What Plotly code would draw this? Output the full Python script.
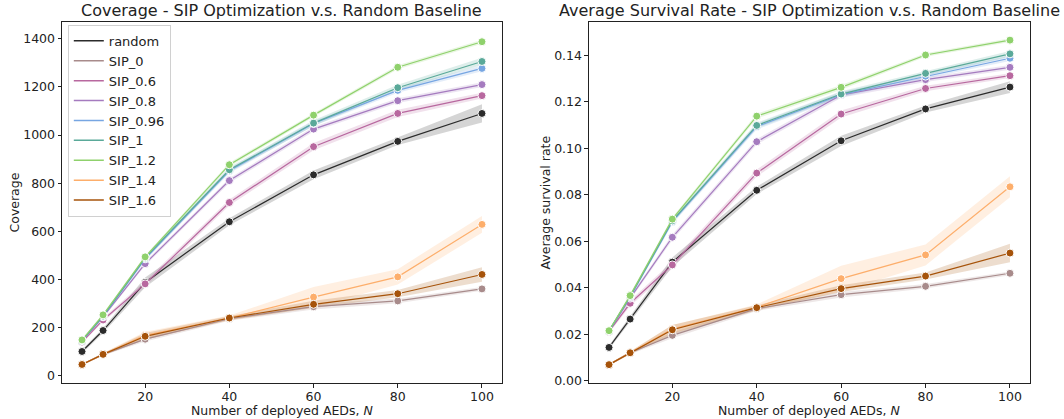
import plotly.graph_objects as go

N = [5, 10, 20, 40, 60, 80, 100]
series_names = ["random", "SIP_0", "SIP_0.6", "SIP_0.8", "SIP_0.96", "SIP_1", "SIP_1.2", "SIP_1.4", "SIP_1.6"]
colors = ["#2b2b2b", "#a88b8b", "#b8689f", "#a57bbf", "#77a6e2", "#5aa999", "#8fd16c", "#fdae6b", "#a6530a"]

# Coverage (means)
cov_random = [101, 188, 388, 640, 835, 974, 1090]
cov_sip0 = [47, 89, 152, 237, 287, 311, 361]
cov_sip06 = [140, 232, 382, 720, 952, 1090, 1164]
cov_sip08 = [145, 245, 466, 811, 1025, 1143, 1210]
cov_sip096 = [146, 247, 486, 852, 1048, 1186, 1277]
cov_sip1 = [146, 248, 490, 856, 1050, 1197, 1306]
cov_sip12 = [149, 253, 494, 877, 1083, 1282, 1388]
cov_sip14 = [47, 89, 168, 240, 327, 411, 629]
cov_sip16 = [47, 89, 164, 240, 297, 341, 421]
# Coverage band half-widths
cov_random_err = [8, 10, 20, 15, 18, 15, 38]
cov_sip0_err = [3, 5, 10, 8, 12, 10, 8]
cov_sip06_err = [5, 8, 12, 12, 15, 15, 12]
cov_sip08_err = [4, 6, 8, 10, 10, 10, 10]
cov_sip096_err = [3, 5, 8, 10, 10, 10, 12]
cov_sip1_err = [3, 5, 8, 10, 12, 12, 15]
cov_sip12_err = [3, 5, 6, 8, 8, 8, 8]
cov_sip14_err = [3, 5, 15, 10, 42, 32, 35]
cov_sip16_err = [3, 5, 14, 8, 15, 15, 30]

# Average survival rate (means)
sur_random = [0.0143, 0.0265, 0.0510, 0.0819, 0.1032, 0.1169, 0.1263]
sur_sip0 = [0.0069, 0.0120, 0.0195, 0.0310, 0.0370, 0.0406, 0.0462]
sur_sip06 = [0.0212, 0.0333, 0.0498, 0.0893, 0.1147, 0.1257, 0.1312]
sur_sip08 = [0.0213, 0.0355, 0.0617, 0.1028, 0.1229, 0.1295, 0.1348]
sur_sip096 = [0.0214, 0.0360, 0.0684, 0.1093, 0.1230, 0.1310, 0.1387]
sur_sip1 = [0.0214, 0.0362, 0.0688, 0.1098, 0.1233, 0.1322, 0.1406]
sur_sip12 = [0.0215, 0.0366, 0.0695, 0.1138, 0.1262, 0.1401, 0.1465]
sur_sip14 = [0.0069, 0.0120, 0.0222, 0.0316, 0.0439, 0.0541, 0.0834]
sur_sip16 = [0.0069, 0.0120, 0.0219, 0.0314, 0.0396, 0.0450, 0.0549]
# Survival band half-widths
sur_random_err = [0.0008, 0.0012, 0.0020, 0.0016, 0.0022, 0.0015, 0.0025]
sur_sip0_err = [0.0004, 0.0006, 0.0012, 0.0010, 0.0012, 0.0010, 0.0008]
sur_sip06_err = [0.0008, 0.0012, 0.0015, 0.0015, 0.0015, 0.0012, 0.0010]
sur_sip08_err = [0.0006, 0.0008, 0.0012, 0.0012, 0.0012, 0.0010, 0.0010]
sur_sip096_err = [0.0005, 0.0008, 0.0010, 0.0012, 0.0012, 0.0010, 0.0012]
sur_sip1_err = [0.0005, 0.0008, 0.0010, 0.0012, 0.0012, 0.0010, 0.0012]
sur_sip12_err = [0.0005, 0.0008, 0.0008, 0.0010, 0.0010, 0.0008, 0.0008]
sur_sip14_err = [0.0004, 0.0006, 0.0018, 0.0012, 0.0055, 0.0045, 0.0045]
sur_sip16_err = [0.0004, 0.0006, 0.0020, 0.0012, 0.0015, 0.0015, 0.0040]

cov_means = [cov_random, cov_sip0, cov_sip06, cov_sip08, cov_sip096, cov_sip1, cov_sip12, cov_sip14, cov_sip16]
cov_errs = [cov_random_err, cov_sip0_err, cov_sip06_err, cov_sip08_err, cov_sip096_err, cov_sip1_err,
            cov_sip12_err, cov_sip14_err, cov_sip16_err]
sur_means = [sur_random, sur_sip0, sur_sip06, sur_sip08, sur_sip096, sur_sip1, sur_sip12, sur_sip14, sur_sip16]
sur_errs = [sur_random_err, sur_sip0_err, sur_sip06_err, sur_sip08_err, sur_sip096_err, sur_sip1_err,
            sur_sip12_err, sur_sip14_err, sur_sip16_err]

cov_yticks = [0, 200, 400, 600, 800, 1000, 1200, 1400]
sur_yticks = [0.00, 0.02, 0.04, 0.06, 0.08, 0.10, 0.12, 0.14]
x_ticks = [20, 40, 60, 80, 100]


def rgba(hexc, a):
    h = hexc.lstrip("#")
    r, g, b = int(h[0:2], 16), int(h[2:4], 16), int(h[4:6], 16)
    return f"rgba({r},{g},{b},{a})"


fig = go.Figure()
FONT = "DejaVu Sans"

for (means, errs, xa, ya) in [(cov_means, cov_errs, "x", "y"), (sur_means, sur_errs, "x2", "y2")]:
    for name, col, m, e in zip(series_names, colors, means, errs):
        lo = [a - b for a, b in zip(m, e)]
        hi = [a + b for a, b in zip(m, e)]
        fig.add_trace(go.Scatter(
            x=N + N[::-1], y=hi + lo[::-1], fill="toself",
            fillcolor=rgba(col, 0.2), line=dict(width=0), mode="lines",
            hoverinfo="skip", showlegend=False, xaxis=xa, yaxis=ya))
    for name, col, m in zip(series_names, colors, means):
        fig.add_trace(go.Scatter(
            x=N, y=m, mode="lines+markers", name=name,
            line=dict(color=col, width=1.2),
            marker=dict(size=8, color=col, line=dict(color="white", width=1)),
            showlegend=False, xaxis=xa, yaxis=ya))

# legend-only entries (lines only)
for name, col in zip(series_names, colors):
    fig.add_trace(go.Scatter(
        x=[None], y=[None], mode="lines", name=name,
        line=dict(color=col, width=1.5), showlegend=True, xaxis="x", yaxis="y"))

axis_common = dict(
    showline=True, linecolor="#222", linewidth=1, mirror=True,
    ticks="outside", ticklen=3.5, tickcolor="#222", tickwidth=1,
    showgrid=False, zeroline=False, automargin=False,
    tickfont=dict(family=FONT, size=12.5, color="#222"),
)

# plot area: x 62..1030, y 22..383 (968 x 361 px)
PW, PH = 968.0, 361.0
L_DOM = [0.0, 0.4545]
R_DOM = [0.5444, 1.0]
title_font = dict(family=FONT, size=16, color="#222")
label_font = dict(family=FONT, size=12.5, color="#222")

fig.update_layout(
    width=1064, height=419,
    margin=dict(l=62, r=34, t=22, b=36, autoexpand=False),
    plot_bgcolor="white", paper_bgcolor="white",
    font=dict(family=FONT, color="#222"),
    xaxis=dict(domain=L_DOM, range=[0.25, 104.75], tickvals=x_ticks, anchor="y",
               ticklabelstandoff=-2, **axis_common),
    yaxis=dict(domain=[0.0, 1.0], range=[-30, 1470], tickvals=cov_yticks, anchor="x", **axis_common),
    xaxis2=dict(domain=R_DOM, range=[0.25, 104.75], tickvals=x_ticks, anchor="y2",
                ticklabelstandoff=-2, **axis_common),
    yaxis2=dict(domain=[0.0, 1.0], range=[-0.001, 0.1543], tickvals=sur_yticks, tickformat=".2f",
                anchor="x2", **axis_common),
    legend=dict(x=0.006, y=0.992, xanchor="left", yanchor="top",
                bgcolor="rgba(255,255,255,0.8)", bordercolor="#d0d0d0", borderwidth=1,
                font=dict(family=FONT, size=13, color="#222"), tracegroupgap=0,
                itemwidth=30),
    annotations=[
        dict(text="Coverage - SIP Optimization v.s. Random Baseline", x=sum(L_DOM) / 2, y=1.0,
             xref="paper", yref="paper", xanchor="center", yanchor="bottom", showarrow=False,
             font=title_font),
        dict(text="Average Survival Rate - SIP Optimization v.s. Random Baseline", x=sum(R_DOM) / 2,
             y=1.0, xref="paper", yref="paper", xanchor="center", yanchor="bottom", showarrow=False,
             font=title_font),
        dict(text="Number of deployed AEDs, <i>N</i>", x=sum(L_DOM) / 2, y=-36.0 / PH,
             xref="paper", yref="paper", xanchor="center", yanchor="bottom", showarrow=False,
             font=label_font, borderpad=0),
        dict(text="Number of deployed AEDs, <i>N</i>", x=sum(R_DOM) / 2, y=-36.0 / PH,
             xref="paper", yref="paper", xanchor="center", yanchor="bottom", showarrow=False,
             font=label_font, borderpad=0),
        dict(text="Coverage", x=(14 - 62) / PW, y=0.5, textangle=-90,
             xref="paper", yref="paper", xanchor="center", yanchor="middle", showarrow=False,
             font=label_font),
        dict(text="Average survival rate", x=(545 - 62) / PW, y=0.5, textangle=-90,
             xref="paper", yref="paper", xanchor="center", yanchor="middle", showarrow=False,
             font=label_font),
    ],
)

fig.write_html("out.html", config={"displayModeBar": False},
               post_script="document.body.style.margin='0';document.body.style.padding='0';")
